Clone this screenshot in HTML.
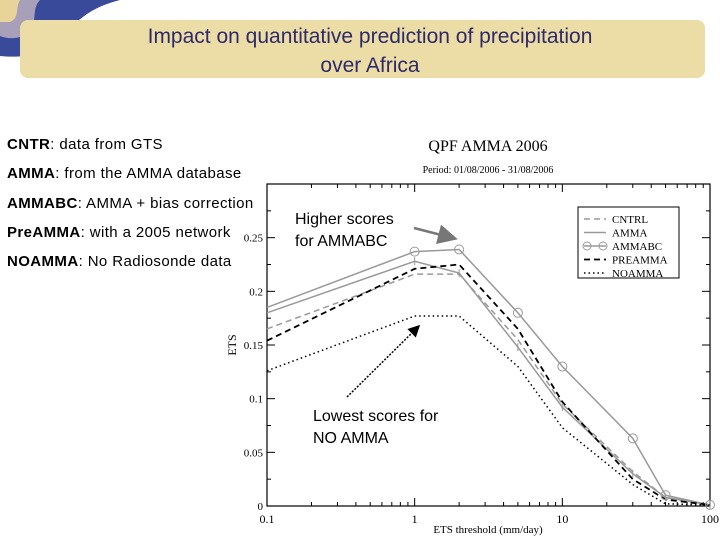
<!DOCTYPE html>
<html><head><meta charset="utf-8"><style>
body{margin:0;width:720px;height:540px;background:#fff;overflow:hidden;position:relative;font-family:"Liberation Sans",sans-serif}
.lt{position:absolute;left:7px;font-size:15px;letter-spacing:0.4px;color:#000;white-space:nowrap}
</style></head><body>
<svg style="position:absolute;left:0;top:0" width="130" height="60">
<path d="M0,0 H120 C80,10 70,30 55,48 C45,55 20,58 0,56 Z" fill="#3a4a9a"/>
<path d="M0,0 H40 C30,10 40,25 25,35 C15,40 5,38 0,36 Z" fill="#a8a0b8"/>
<path d="M0,0 H20 C15,8 20,18 10,22 L0,22 Z" fill="#e8d49a"/>
</svg>
<div style="position:absolute;left:20px;top:20px;width:685px;height:58px;background:#ecdca6;border-radius:8px"></div>
<div style="position:absolute;left:15px;top:22px;width:710px;text-align:center;font-size:21px;line-height:29px;color:#2e2a6a">Impact on quantitative prediction of precipitation<br>over Africa</div>
<div class="lt" style="top:136px"><b>CNTR</b>: data from GTS</div>
<div class="lt" style="top:165px"><b>AMMA</b>: from the AMMA database</div>
<div class="lt" style="top:195px"><b>AMMABC</b>: AMMA + bias correction</div>
<div class="lt" style="top:224px"><b>PreAMMA</b>: with a 2005 network</div>
<div class="lt" style="top:253px"><b>NOAMMA</b>: No Radiosonde data</div>
<svg id="chart" style="position:absolute;left:0;top:0" width="720" height="540" font-family="Liberation Serif,serif"></svg>
<div style="position:absolute;left:295px;top:209px;font-size:16px;line-height:22px">Higher scores<br>for AMMABC</div>
<div style="position:absolute;left:313px;top:406px;font-size:16px;line-height:22px">Lowest scores for<br>NO AMMA</div>
<script>
const xs=[0.1,1,2,5,10,30,50,100];
const cntrl=[0.165,0.216,0.216,0.155,0.095,0.032,0.008,0.001];
const amma=[0.18,0.228,0.217,0.148,0.092,0.03,0.008,0.001];
const ammabc=[0.185,0.237,0.239,0.18,0.13,0.063,0.01,0.001];
const preamma=[0.154,0.221,0.225,0.165,0.097,0.025,0.006,0.001];
const noamma=[0.126,0.177,0.177,0.13,0.073,0.02,0.002,0.001];
const yTicks=[0,0.05,0.1,0.15,0.2,0.25];
const yLabels=["0","0.05","0.1","0.15","0.2","0.25"];
const xTicks=[0.1,1,10,100];
const xLabels=["0.1","1","10","100"];
const L=267,R=710,T=184,B=506;
const X=v=>L+(Math.log10(v)+1)/3*(R-L);
const Y=v=>B-v/0.3*(B-T);
const svg=document.getElementById('chart');
const NS='http://www.w3.org/2000/svg';
function mk(t,a,p){const e=document.createElementNS(NS,t);for(const k in a)e.setAttribute(k,a[k]);(p||svg).appendChild(e);return e;}
let e;
e=mk('rect',{x:L,y:T,width:R-L,height:B-T,fill:'none',stroke:'#000','stroke-width':1.2});


yTicks.forEach((v,i)=>{
 mk('line',{x1:L,x2:L+8,y1:Y(v),y2:Y(v),stroke:'#000'});
 mk('line',{x1:R,x2:R-8,y1:Y(v),y2:Y(v),stroke:'#000'});
 const m=v+0.025; if(m<0.3){mk('line',{x1:L,x2:L+4,y1:Y(m),y2:Y(m),stroke:'#000'});mk('line',{x1:R,x2:R-4,y1:Y(m),y2:Y(m),stroke:'#000'});}
 e=mk('text',{x:L-4,y:Y(v)+4,'text-anchor':'end','font-size':11});e.textContent=yLabels[i];
 
 
});
xTicks.forEach((v,i)=>{
 for(let k=1;k<10&&i<3;k++){const t=v*k;const len=k==1?8:4;
  mk('line',{x1:X(t),x2:X(t),y1:B,y2:B-len,stroke:'#000'});mk('line',{x1:X(t),x2:X(t),y1:T,y2:T+len,stroke:'#000'});}
 e=mk('text',{x:X(v),y:B+17,'text-anchor':'middle','font-size':12});e.textContent=xLabels[i];
 
 
});
e=mk('text',{x:488,y:533,'text-anchor':'middle','font-size':11});e.textContent='ETS threshold (mm/day)';


e=mk('text',{x:236,y:345,'text-anchor':'middle','font-size':12,transform:'rotate(-90 236 345)'});e.textContent='ETS';


e=mk('text',{x:488,y:151,'text-anchor':'middle','font-size':16});e.textContent='QPF AMMA 2006';


e=mk('text',{x:488,y:173,'text-anchor':'middle','font-size':10});e.textContent='Period: 01/08/2006 - 31/08/2006';


const series=[
 ['cntrl',cntrl,'#999','6,4',1.5],['amma',amma,'#999','',1.5],['ammabc',ammabc,'#999','',1.5],
 ['preamma',preamma,'#000','6,4',1.8],['noamma',noamma,'#000','1.5,3',1.5]];
series.forEach(s=>{
 e=mk('polyline',{points:xs.map((x,i)=>X(x)+','+Y(s[1][i])).join(' '),fill:'none',stroke:s[2],'stroke-dasharray':s[3],'stroke-width':s[4]});
 
 
});
xs.forEach((x,i)=>{if(i==0)return;
 e=mk('circle',{cx:X(x),cy:Y(ammabc[i]),r:4.5,fill:'none',stroke:'#999'});
 
 
 e=mk('line',{x1:X(x),x2:X(x),y1:Y(amma[i])-4,y2:Y(amma[i])+4,stroke:'#999'});
 
 
});
const lg=mk('g',{});


mk('rect',{x:578,y:207,width:101,height:71,fill:'#fff',stroke:'#000'},lg);
series.forEach((s,i)=>{const y=219+i*13.5;
 mk('line',{x1:584,x2:606,y1:y,y2:y,stroke:s[2],'stroke-dasharray':s[3],'stroke-width':s[4]},lg);
 if(s[0]=='ammabc'){mk('circle',{cx:587,cy:y,r:4,fill:'none',stroke:'#999'},lg);mk('circle',{cx:603,cy:y,r:4,fill:'none',stroke:'#999'},lg);}
 e=mk('text',{x:612,y:y+4,'font-size':11},lg);e.textContent=s[0].toUpperCase();
 
 
});
mk('defs',{}).innerHTML='<marker id="ah2" markerWidth="8" markerHeight="8" refX="6" refY="4" orient="auto"><path d="M0,0 L8,4 L0,8 Z" fill="#000"/></marker><marker id="ah3" markerWidth="8" markerHeight="8" refX="6" refY="4" orient="auto"><path d="M0,0 L8,4 L0,8 Z" fill="#777"/></marker>';
e=mk('line',{x1:414,y1:228,x2:453,y2:238,stroke:'#777','stroke-width':2.5,'marker-end':'url(#ah3)'});


e=mk('line',{x1:347,y1:397,x2:418,y2:327,stroke:'#000','stroke-width':1.5,'stroke-dasharray':'2,1.5','marker-end':'url(#ah2)'});


</script>
</body></html>
